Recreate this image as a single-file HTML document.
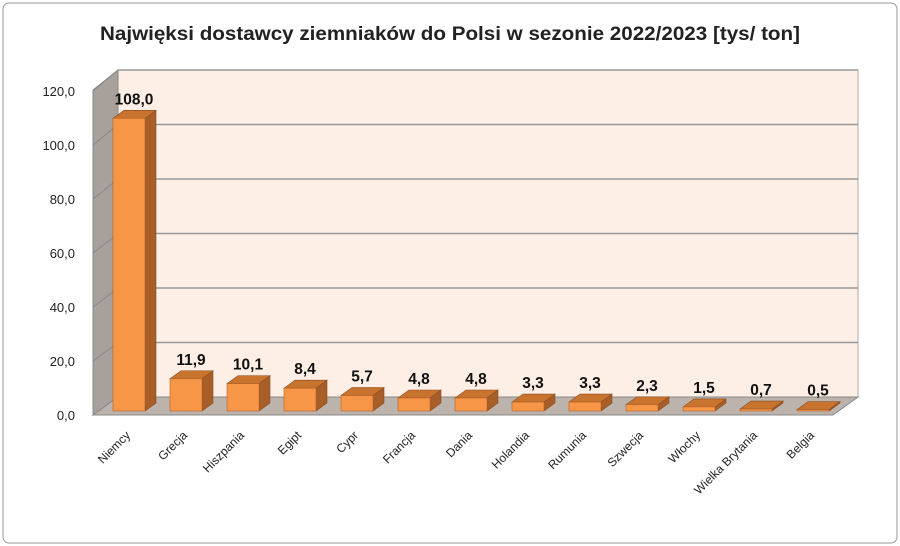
<!DOCTYPE html>
<html><head><meta charset="utf-8"><style>
body{margin:0;background:#fff;}
svg{display:block;font-family:"Liberation Sans",sans-serif;}
</style></head><body>
<svg width="900" height="546">
<rect x="3" y="3" width="894" height="540" rx="6" fill="#fff" stroke="#999"/>
<text x="450" y="40" text-anchor="middle" font-size="19" font-weight="bold" fill="#222" textLength="700" lengthAdjust="spacingAndGlyphs">Najwięksi dostawcy ziemniaków do Polsi w sezonie 2022/2023 [tys/ ton]</text>
<polygon points="118,70 858,70 858,397 118,397" fill="#fdefe6" stroke="#aaa"/>
<polygon points="93,90 118,70 118,397 93,415" fill="#a8a09a" stroke="#888"/>
<polygon points="93,415 118,397 858,397 833,415" fill="#bdb3ad" stroke="#888"/>
<g id="grid"></g><g id="bars"></g><g id="labels"></g>
</svg>
<script>
const categories=["Niemcy","Grecja","Hiszpania","Egipt","Cypr","Francja","Dania","Holandia","Rumunia","Szwecja","Włochy","Wielka Brytania","Belgia"];
const values=[108.0,11.9,10.1,8.4,5.7,4.8,4.8,3.3,3.3,2.3,1.5,0.7,0.5];
const ticks=[0,20,40,60,80,100,120];
const NS="http://www.w3.org/2000/svg";
function mk(t,a,p){const e=document.createElementNS(NS,t);for(const k in a)e.setAttribute(k,a[k]);p.appendChild(e);return e;}
const backY=v=>397-v*2.725, frontY=v=>415-v*2.70, barY=v=>411-v*2.71;
const barX=i=>113+i*57;
const g=document.getElementById('grid'),b=document.getElementById('bars'),l=document.getElementById('labels');
ticks.forEach(t=>{
 if(t>0){const ln=mk('line',{x1:118,y1:backY(t),x2:858,y2:backY(t),stroke:'#999','stroke-width':1.5},g);
 
 const d=mk('line',{x1:93,y1:frontY(t),x2:118,y2:backY(t),stroke:'#888'},g);
 }
 const tx=mk('text',{x:75,y:frontY(t)+5,'text-anchor':'end','font-size':13,fill:'#222'},g);
 tx.textContent=t.toFixed(1).replace('.',',');
 
});
values.forEach((v,i)=>{
 const x=barX(i),w=32,y0=411,y=barY(v),dx=11,dy=8;
 const grp=mk('g',{},b);
 
 
 mk('polygon',{points:`${x+w},${y} ${x+w+dx},${y-dy} ${x+w+dx},${y0-dy} ${x+w},${y0}`,fill:'#a85e28',stroke:'#8a4b1e','stroke-width':0.6},grp);
 mk('polygon',{points:`${x},${y} ${x+dx},${y-dy} ${x+w+dx},${y-dy} ${x+w},${y}`,fill:'#c8742f',stroke:'#8a4b1e','stroke-width':0.6},grp);
 mk('rect',{x:x,y:y,width:w,height:y0-y,fill:'#f79646',stroke:'#b4622a','stroke-width':0.6},grp);
 const vt=mk('text',{x:x+w/2+5,y:y-dy-6,'text-anchor':'middle','font-size':15.5,'font-weight':'bold',fill:'#111'},l);
 vt.textContent=v.toFixed(1).replace('.',',');
 
 const ct=mk('text',{x:0,y:0,'text-anchor':'end','font-size':12,fill:'#222',transform:`translate(${x+w/2+2},${436}) rotate(-45)`},l);
 ct.textContent=categories[i];
 
});
</script>
</body></html>
